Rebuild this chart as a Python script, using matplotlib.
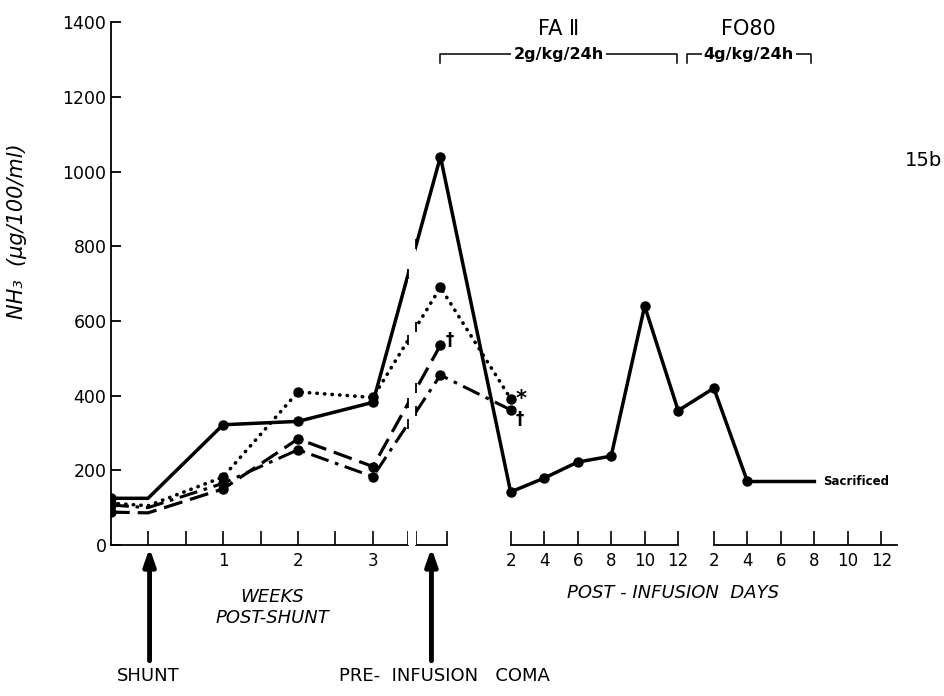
import matplotlib
matplotlib.use('Agg')
import matplotlib.pyplot as plt
import numpy as np

# weeks post-shunt (-0.5 = baseline before shunt, 0 = shunt)
week_pos = [-0.5, 0, 1, 2, 3]
solid_weeks = [125, 125, 322, 331, 382]
dotted_weeks = [112, 105, 182, 410, 395]
dashdot_weeks = [107, 100, 165, 255, 183]
dashed_weeks = [88, 86, 150, 284, 210]

# pre-infusion coma
solid_coma = 1040
dotted_coma = 690
dashdot_coma = 455
dashed_coma = 535

# post-infusion days, FA II (2g/kg/24h)
fa_days = [2, 4, 6, 8, 10, 12]
solid_fa = [142, 179, 222, 238, 640, 360]
dotted_fa = [392]
dashdot_fa = [362]

# post-infusion days, FO80 (4g/kg/24h)
fo_days = [2, 4, 8]
solid_fo = [420, 170, 170]

week_ticks = [0, 0.5, 1, 1.5, 2, 2.5, 3]
week_labels = ['', '', '1', '', '2', '', '3']
day_ticks = [2, 4, 6, 8, 10, 12]
y_ticks = [0, 200, 400, 600, 800, 1000, 1200, 1400]

# layout of the broken x axis (in "week" units)
WEEK_END = 3.47
COMA_START, COMA_X, COMA_ARROW, COMA_END = 3.58, 3.9, 3.78, 3.99
FA_X0, FO_X0, DAY_W = 4.836, 7.547, 0.2235
FO_END = 9.99


def fa_x(d):
    return FA_X0 + (np.asarray(d) - 2) * DAY_W


def fo_x(d):
    return FO_X0 + (np.asarray(d) - 2) * DAY_W


fig = plt.figure(figsize=(9.45, 6.96), dpi=100)
ax = fig.add_axes([0.117, 0.217, 0.883, 0.751])
ax.set_xlim(-0.5, 10.63)
ax.set_ylim(0, 1400)

mk = dict(marker='o', markersize=6.5, color='black')

# solid
xs = list(week_pos) + [COMA_X] + list(fa_x(fa_days)) + list(fo_x(fo_days))
ys = solid_weeks + [solid_coma] + solid_fa + solid_fo
marks = [i for i in range(len(xs)) if i not in (1, len(xs) - 1)]
ax.plot(xs, ys, lw=2.5, markevery=marks, **mk)

# dotted
xs_d = list(week_pos) + [COMA_X] + list(fa_x(fa_days[:1]))
ys_d = dotted_weeks + [dotted_coma] + dotted_fa
ax.plot(xs_d, ys_d, lw=2.6, linestyle=(0, (0.1, 2.0)), dash_capstyle='round',
        markevery=[0, 2, 3, 4, 5, 6], **mk)

# dash-dot
xs_dd = list(week_pos) + [COMA_X] + list(fa_x(fa_days[:1]))
ys_dd = dashdot_weeks + [dashdot_coma] + dashdot_fa
ax.plot(xs_dd, ys_dd, lw=2.2, linestyle=(0, (6, 2.2, 1.2, 2.2)),
        markevery=[0, 2, 3, 4, 5, 6], **mk)

# dashed
xs_da = list(week_pos) + [COMA_X]
ys_da = dashed_weeks + [dashed_coma]
ax.plot(xs_da, ys_da, lw=2.3, linestyle=(0, (6, 2.5)),
        markevery=[0, 2, 3, 4, 5], **mk)

# break in the lines between week 3 and coma
ax.axvspan(WEEK_END, COMA_START, color='white', zorder=3, lw=0)
for wk, cm in [(solid_weeks[-1], solid_coma), (dotted_weeks[-1], dotted_coma),
               (dashdot_weeks[-1], dashdot_coma), (dashed_weeks[-1], dashed_coma)]:
    for xb in (WEEK_END, COMA_START):
        yb = np.interp(xb, [3, COMA_X], [wk, cm])
        ax.plot(xb, yb, marker='|', markersize=7, mew=1.3, color='black', zorder=4)

# end symbols
ax.text(fa_x(2) + 0.07, dotted_fa[0], '*', fontsize=15, fontweight='bold', va='center')
ax.text(fa_x(2) + 0.07, dashdot_fa[0] - 25, '†', fontsize=12, fontweight='bold', va='center')
ax.text(COMA_X + 0.07, dashed_coma + 15, '†', fontsize=12, fontweight='bold', va='center')
ax.text(fo_x(8) + 0.12, solid_fo[-1], 'Sacrificed', fontsize=8.5, fontweight='bold',
        va='center')

# axes styling
for s in ['top', 'right', 'bottom']:
    ax.spines[s].set_visible(False)
ax.spines['left'].set_bounds(0, 1400)
ax.spines['left'].set_linewidth(1.3)
ax.set_yticks(y_ticks)
ax.tick_params(axis='y', direction='in', length=7, width=1.3, labelsize=12.5, pad=3)

xt = list(week_ticks) + [WEEK_END, COMA_START, COMA_END] + list(fa_x(day_ticks)) + list(fo_x(day_ticks))
xl = week_labels + ['', '', ''] + [str(d) for d in day_ticks] + [str(d) for d in day_ticks]
ax.set_xticks(xt, xl)
ax.tick_params(axis='x', direction='in', length=10, width=1.2, labelsize=12, pad=5)

xtr = ax.get_xaxis_transform()
for a, b in [(-0.5, WEEK_END), (COMA_START, COMA_END), (fa_x(2), fa_x(12)), (fo_x(2), FO_END)]:
    ax.plot([a, b], [0, 0], transform=xtr, color='black', lw=1.3, clip_on=False)

ax.set_ylabel('NH₃  (μg/100/ml)', fontsize=15, fontstyle='italic')
ax.yaxis.set_label_coords(-0.1, 0.6)

# treatment brackets
def bracket(x0, x1, label, title):
    y = 1315
    ax.plot([x0, x0, x1, x1], [1292, y, y, 1292], color='black', lw=1.1, clip_on=False)
    ax.text((x0 + x1) / 2, y, label, ha='center', va='center', fontsize=11.5,
            fontweight='bold', bbox=dict(facecolor='white', edgecolor='none', pad=1.5))
    ax.text((x0 + x1) / 2, 1382, title, ha='center', va='center', fontsize=15)

bracket(COMA_X, fa_x(12) - 0.02, '2g/kg/24h', 'FA Ⅱ')
bracket(7.19, fo_x(8) - 0.05, '4g/kg/24h', 'FO80')

# arrows and captions below the axis
arrow = dict(arrowstyle='-|>,head_width=0.35,head_length=1.0', lw=3.5, color='black',
             shrinkA=0, shrinkB=0)
ax.annotate('', xy=(0.02, -8), xytext=(0.02, -310), arrowprops=arrow, annotation_clip=False)
ax.annotate('', xy=(COMA_ARROW, -8), xytext=(COMA_ARROW, -310), arrowprops=arrow,
            annotation_clip=False)
ax.text(0, -352, 'SHUNT', ha='center', va='center', fontsize=13)
ax.text(3.95, -352, 'PRE-  INFUSION   COMA', ha='center', va='center', fontsize=13)
ax.text(1.66, -139, 'WEEKS', ha='center', va='center', fontsize=13, fontstyle='italic')
ax.text(1.66, -195, 'POST-SHUNT', ha='center', va='center', fontsize=13, fontstyle='italic')
ax.text(7.0, -128, 'POST - INFUSION  DAYS', ha='center', va='center', fontsize=13,
        fontstyle='italic')

fig.text(0.997, 1 - 160 / 696, '15b', fontsize=14, va='center', ha='right')

fig.savefig('out.png', dpi=100)
